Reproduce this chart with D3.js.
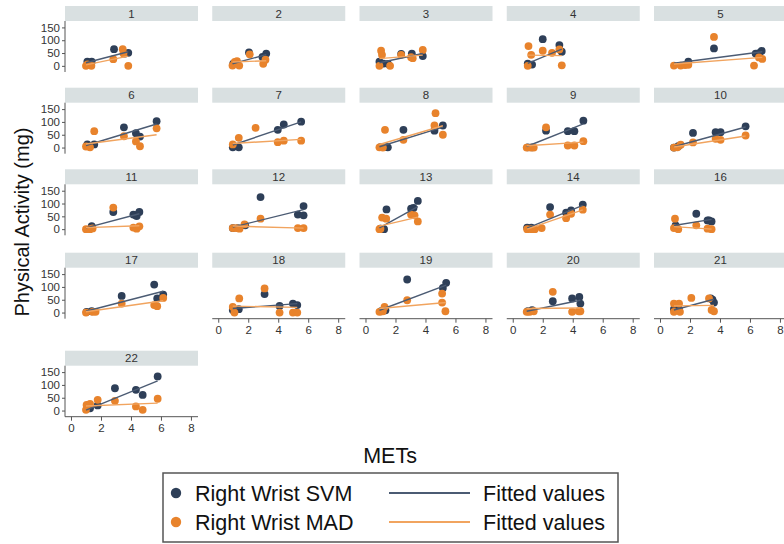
<!DOCTYPE html>
<html>
<head>
<meta charset="utf-8">
<script src="https://cdn.jsdelivr.net/npm/d3@7"></script>
<style>
  html, body { margin: 0; padding: 0; background: #fff; }
  svg { display: block; font-family: "Liberation Sans", Arial, sans-serif; }
</style>
</head>
<body>
<svg id="chart" width="784" height="544"></svg>
<script>
// Panel (participant) ids, in reading order
const panelIds = ["1","2","3","4","5","6","7","8","9","10","11","12","13","14","16","17","18","19","20","21","22"];

// Right Wrist SVM: [METs, mg] per panel
const svmPoints = [
  [[1.09,16],[1.38,16],[2.87,65],[3.6,48],[3.82,51]],
  [[1.0,9],[2.05,52],[2.95,35],[3.2,48]],
  [[0.93,16],[1.2,9],[1.5,8],[2.38,47],[3.09,48],[3.82,38]],
  [[1.0,9],[1.29,5],[2.0,104],[3.11,81],[3.27,55]],
  [[1.89,16],[3.6,68],[6.38,48],[6.6,50],[6.78,58]],
  [[1.09,12],[1.55,12],[3.53,79],[4.33,56],[4.6,43],[5.71,103]],
  [[0.97,1],[1.37,1],[3.97,69],[4.37,90],[5.53,101]],
  [[1.0,2],[1.4,2],[1.49,1],[2.53,69],[4.6,66],[5.16,86]],
  [[1.0,1],[1.29,1],[2.22,66],[3.67,64],[4.11,64],[4.71,105]],
  [[0.93,0],[1.22,5],[2.2,57],[3.71,60],[4.04,60],[5.71,83]],
  [[1.38,12],[2.82,67],[4.16,57],[4.3,55],[4.38,51],[4.56,67]],
  [[0.97,4],[1.31,4],[1.8,15],[2.82,125],[5.31,57],[5.69,54],[5.69,90]],
  [[1.0,2],[1.24,0],[1.4,77],[3.04,80],[3.2,83],[3.49,110]],
  [[0.96,6],[1.24,6],[2.49,86],[3.56,64],[3.89,73],[4.67,96]],
  [[1.04,15],[2.42,60],[3.17,34],[3.27,34],[3.44,30]],
  [[1.04,3],[1.38,5],[3.38,65],[5.55,109],[5.75,55],[6.15,70]],
  [[0.97,10],[1.37,13],[3.09,72],[4.09,26],[4.98,35],[5.27,29]],
  [[1.04,5],[1.33,9],[2.78,129],[5.16,96],[5.38,116]],
  [[1.0,5],[1.29,9],[2.67,44],[3.96,55],[4.44,61],[4.51,35]],
  [[0.93,13],[1.27,13],[3.38,55],[3.5,50],[3.6,39]],
  [[1.27,9],[1.78,20],[2.93,87],[4.33,81],[4.78,61],[5.78,133]]
];

// Right Wrist MAD: [METs, mg] per panel
const madPoints = [
  [[1.0,0],[1.1,6],[1.36,0],[2.82,26],[3.45,65],[3.5,48],[3.82,0]],
  [[0.95,1],[1.1,15],[1.25,18],[1.4,1],[2.1,45],[3.0,8],[3.15,24]],
  [[0.93,0],[1.04,59],[1.1,43],[1.64,0],[2.38,43],[3.04,34],[3.15,30],[3.82,62]],
  [[1.0,0],[1.05,77],[1.23,43],[2.0,59],[2.62,51],[3.11,64],[3.27,2]],
  [[0.93,1],[1.38,1],[1.67,3],[1.89,4],[3.6,113],[6.27,1],[6.6,33],[6.82,27]],
  [[1.0,4],[1.27,1],[1.55,64],[3.53,44],[4.33,24],[4.6,5],[5.71,75]],
  [[0.97,12],[1.37,38],[2.49,77],[3.97,21],[4.37,27],[5.53,27]],
  [[0.93,1],[1.04,2],[1.16,0],[1.3,69],[2.53,30],[4.6,86],[4.67,134],[5.16,50]],
  [[0.93,0],[1.2,0],[1.4,0],[2.22,79],[3.67,8],[4.11,8],[4.71,25]],
  [[0.93,0],[1.16,1],[1.38,11],[2.2,20],[3.71,34],[4.04,30],[5.71,47]],
  [[1.0,0],[1.27,0],[1.44,3],[2.82,84],[4.16,6],[4.38,2],[4.56,11]],
  [[0.97,4],[1.2,4],[1.42,2],[1.75,19],[2.82,41],[5.31,4],[5.69,4]],
  [[0.93,0],[1.0,2],[1.11,45],[1.38,41],[3.04,57],[3.27,54],[3.49,30]],
  [[0.96,0],[1.24,0],[1.47,0],[1.93,4],[2.49,57],[3.56,43],[3.89,60],[4.67,76]],
  [[0.93,4],[1.0,41],[1.22,0],[2.42,15],[3.17,2],[3.44,0]],
  [[1.0,0],[1.44,3],[1.64,3],[3.38,35],[5.55,29],[5.75,25],[6.15,57]],
  [[0.97,22],[1.08,0],[1.4,55],[3.09,94],[4.09,0],[4.98,0],[5.27,0]],
  [[0.93,3],[1.16,5],[1.27,22],[2.78,48],[5.11,74],[5.11,39],[5.33,5]],
  [[0.93,3],[1.13,3],[1.4,5],[2.67,81],[3.96,3],[4.4,5],[4.51,5]],
  [[0.93,35],[0.93,3],[1.27,35],[1.33,3],[2.09,57],[3.27,55],[3.44,10],[3.6,5]],
  [[1.0,3],[1.04,22],[1.27,26],[1.78,42],[2.93,38],[4.33,16],[4.78,3],[5.78,46]]
];

// Fitted values, start and end of each line: [x1, y1, x2, y2]
const svmFit = [
  [1.0,12,3.82,55],[0.95,8,3.2,44],[0.93,12,3.82,48],[1.0,10,3.27,65],[0.93,10,6.82,55],
  [1.0,8,5.71,92],[0.97,10,5.53,100],[0.93,3,5.16,80],[0.93,4,4.71,92],[0.93,3,5.71,80],
  [1.0,5,4.56,60],[0.97,8,5.69,76],[0.93,5,3.49,88],[0.96,4,4.67,93],[0.93,14,3.44,38],
  [1.0,5,6.15,83],[0.97,16,5.27,35],[0.93,9,5.38,107],[0.93,5,4.51,48],[0.93,10,3.6,52],
  [1.0,2,5.78,116]
];
const madFit = [
  [1.0,4,3.82,38],[0.95,15,3.2,20],[0.93,28,3.82,42],[1.0,42,3.27,40],[0.93,7,6.82,33],
  [1.0,14,5.71,50],[0.97,16,5.53,32],[0.93,12,5.16,85],[0.93,7,4.71,21],[0.93,2,5.71,45],
  [1.0,6,4.56,13],[0.97,12,5.69,4],[0.93,12,3.49,47],[0.96,0,4.67,75],[0.93,10,3.44,0],
  [1.0,3,6.15,46],[0.97,25,5.27,20],[0.93,16,5.38,39],[0.93,16,4.51,18],[0.93,26,3.6,28],
  [1.0,18,5.78,29]
];

const xTicks = [0, 2, 4, 6, 8];
const yTicks = [0, 50, 100, 150];
const seriesNames = ["Right Wrist SVM", "Right Wrist MAD"];
const fitName = "Fitted values";

const svmColor = "#2e3f58";
const madColor = "#e8832c";
const svmLine = "#4b5b73";
const madLine = "#f1a45f";

const svg = d3.select("#chart");

// grid geometry
const nCols = 5;
const colLeft = c => 65 + c * 147.25;
const rowTop = [6, 87.7, 169.3, 252.7, 350.7];
const panelW = 133, headH = 15, plotH = 51;

const x = d3.scaleLinear().domain([-0.4, 8.47]).range([0, panelW]);
const y = d3.scaleLinear().domain([-24, 175]).range([plotH, 0]);

const nPanels = panelIds.length;
const lastRowOfCol = c => {
  let r = -1;
  for (let i = c; i < nPanels; i += nCols) r = Math.floor(i / nCols);
  return r;
};

panelIds.forEach((id, i) => {
  const c = i % nCols, r = Math.floor(i / nCols);
  const g = svg.append("g").attr("transform", `translate(${colLeft(c)},${rowTop[r]})`);

  // strip header
  g.append("rect").attr("x", 0).attr("y", 0).attr("width", panelW).attr("height", headH)
    .attr("fill", "#d9e0e1");
  g.append("text").attr("x", panelW / 2).attr("y", headH / 2 + 4)
    .attr("text-anchor", "middle").attr("font-size", 11.5).attr("fill", "#333").text(id);

  const p = g.append("g").attr("transform", `translate(0,${headH})`);

  // y axis on first column
  if (c === 0) {
    const ya = p.append("g").call(d3.axisLeft(y).tickValues(yTicks).tickSize(3).tickPadding(2));
    ya.select(".domain").attr("d", `M0,0V${plotH}`).attr("stroke", "#555");
    ya.selectAll(".tick line").attr("stroke", "#555");
    ya.selectAll("text").attr("font-size", 11.5).attr("fill", "#333")
      .attr("font-family", "Liberation Sans, Arial, sans-serif");
  }
  // x axis on the bottom panel of each column
  if (r === lastRowOfCol(c)) {
    const xa = p.append("g").attr("transform", `translate(0,${plotH})`)
      .call(d3.axisBottom(x).tickValues(xTicks).tickSize(4).tickPadding(3));
    xa.select(".domain").attr("d", `M0,0H${panelW}`).attr("stroke", "#555");
    xa.selectAll(".tick line").attr("stroke", "#555");
    xa.selectAll("text").attr("font-size", 11.5).attr("fill", "#333")
      .attr("font-family", "Liberation Sans, Arial, sans-serif");
  }

  // scatter points
  p.selectAll(".svm").data(svmPoints[i]).join("circle")
    .attr("cx", d => x(d[0])).attr("cy", d => y(d[1])).attr("r", 3.9).attr("fill", svmColor);
  p.selectAll(".mad").data(madPoints[i]).join("circle")
    .attr("cx", d => x(d[0])).attr("cy", d => y(d[1])).attr("r", 3.9).attr("fill", madColor);

  // fitted lines
  const fitLine = (f, col) => p.append("line")
    .attr("x1", x(f[0])).attr("y1", y(f[1])).attr("x2", x(f[2])).attr("y2", y(f[3]))
    .attr("stroke", col).attr("stroke-width", 1.4);
  fitLine(svmFit[i], svmLine);
  fitLine(madFit[i], madLine);
});

// axis titles
svg.append("text").attr("x", 390).attr("y", 463).attr("text-anchor", "middle")
  .attr("font-size", 21.5).attr("fill", "#111").text("METs");
svg.append("text").attr("transform", "translate(29,222) rotate(-90)").attr("text-anchor", "middle")
  .attr("font-size", 20).attr("fill", "#111").text("Physical Activity (mg)");

// legend
const lg = svg.append("g");
lg.append("rect").attr("x", 163).attr("y", 473).attr("width", 455).attr("height", 69)
  .attr("fill", "#fff").attr("stroke", "#555").attr("stroke-width", 1.5);
const legendRows = [
  { name: seriesNames[0], dot: svmColor, line: svmLine, cy: 493 },
  { name: seriesNames[1], dot: madColor, line: madLine, cy: 522 }
];
legendRows.forEach(d => {
  lg.append("circle").attr("cx", 176).attr("cy", d.cy).attr("r", 5.2).attr("fill", d.dot);
  lg.append("text").attr("x", 195).attr("y", d.cy + 7.5).attr("font-size", 21.5).attr("fill", "#111").text(d.name);
  lg.append("line").attr("x1", 389).attr("x2", 470).attr("y1", d.cy).attr("y2", d.cy)
    .attr("stroke", d.line).attr("stroke-width", 1.8);
  lg.append("text").attr("x", 483).attr("y", d.cy + 7.5).attr("font-size", 21.5).attr("fill", "#111").text(fitName);
});
</script>
</body>
</html>
